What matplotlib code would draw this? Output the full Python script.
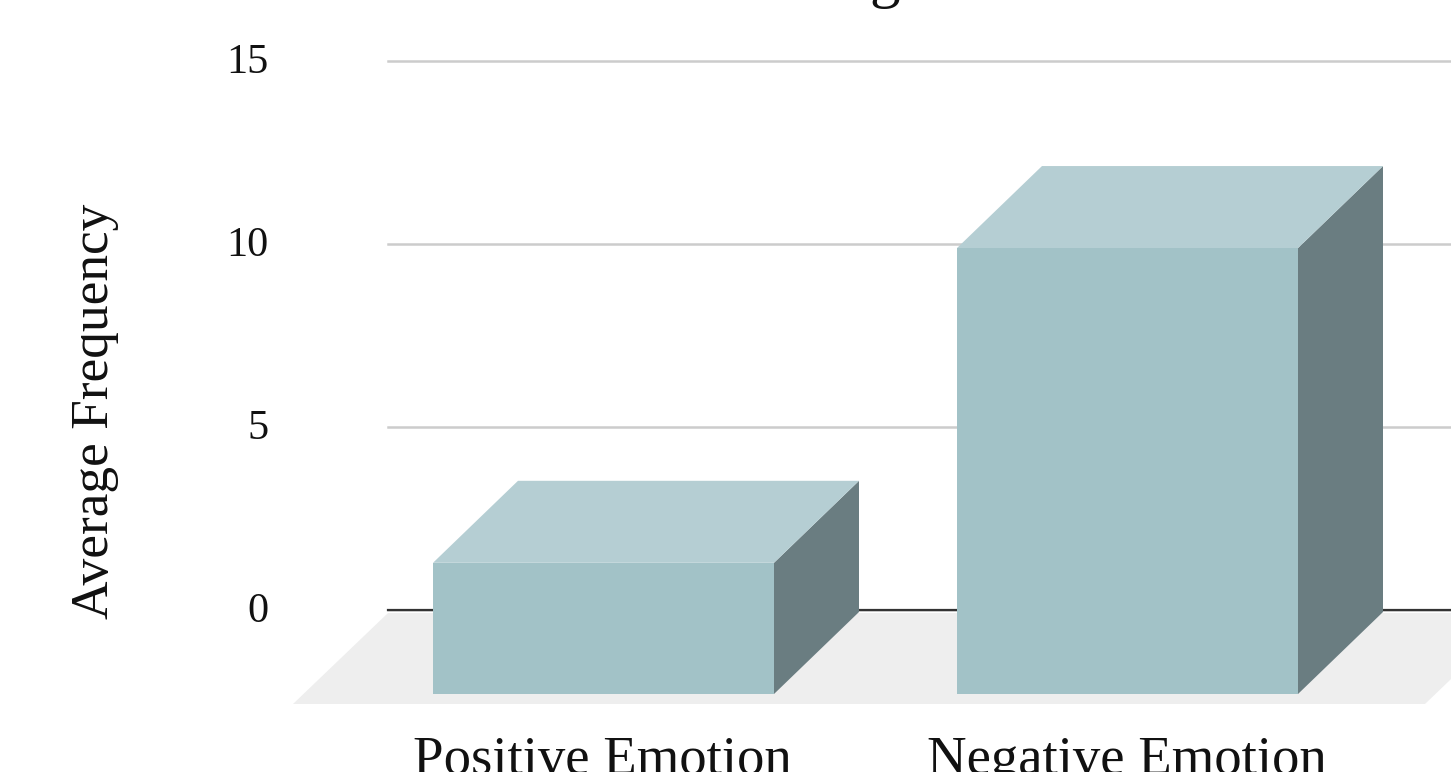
import matplotlib
matplotlib.use('Agg')
import matplotlib.pyplot as plt
from matplotlib.patches import Polygon
from matplotlib.transforms import ScaledTranslation

plt.rcParams['font.family'] = ['Liberation Serif', 'DejaVu Serif']

categories = ['Positive Emotion', 'Negative Emotion']
values = [3.53, 12.13]
yticks = [0, 5, 10, 15]

W, H = 1451, 772
AX_LEFT, AX_RIGHT, AX_TOP, AX_BOTTOM = 388, 1451, 61, 610
STEP = 524.0
PX_PER_UNIT = (AX_BOTTOM - AX_TOP) / 15.0

FRONT = '#a2c2c7'
TOP = '#b5ced3'
SIDE = '#6a7d81'
FLOOR = '#eeeeee'

fig = plt.figure(figsize=(W / 100, H / 100), dpi=100)
ax = fig.add_axes([AX_LEFT / W, 1 - AX_BOTTOM / H,
                   (AX_RIGHT - AX_LEFT) / W, (AX_BOTTOM - AX_TOP) / H])
ax.patch.set_visible(False)
ax.set_xlim((AX_LEFT - 688.5) / STEP, (AX_RIGHT - 688.5) / STEP)
ax.set_ylim(0, 15)

# 3d depth of the bars, in axis units
bar_w = 341 / STEP
dx = 85 / STEP
dy = 82 / PX_PER_UNIT
base = -2 / PX_PER_UNIT

for s in ax.spines.values():
    s.set_visible(False)
ax.set_yticks(yticks)
ax.set_xticks([])
ax.tick_params(axis='y', length=0, labelsize=30.5, pad=86, labelcolor='#111111')
# nudge the tick labels up a little from their gridlines
for lab in ax.get_yticklabels():
    lab.set_transform(lab.get_transform() + ScaledTranslation(0, 2.5 / 100, fig.dpi_scale_trans))
ax.grid(axis='y', color='#cccccc', lw=1.8, clip_on=False)
ax.set_axisbelow(True)
ax.axhline(0, color='#333333', lw=1.6, zorder=1.5, clip_on=False)

# floor plane under the bars
x0 = ax.get_xlim()[0]
floor_dx = 95 / STEP
floor_dy = 94 / PX_PER_UNIT
floor = Polygon([(x0, -3 / PX_PER_UNIT), (x0 + 1132 / STEP, -3 / PX_PER_UNIT),
                 (x0 + (1132 - 95) / STEP, -floor_dy), (x0 - floor_dx, -floor_dy)],
                closed=True, fc=FLOOR, ec='none', clip_on=False, zorder=1.2)
ax.add_patch(floor)

for i, (name, v) in enumerate(zip(categories, values)):
    left = i - bar_w / 2
    right = i + bar_w / 2
    # side, top, then front face
    ax.add_patch(Polygon([(right - dx, base - dy), (right, base), (right, v), (right - dx, v - dy)],
                         fc=SIDE, ec='none', clip_on=False, zorder=3))
    ax.add_patch(Polygon([(left - dx, v - dy), (right - dx, v - dy), (right, v), (left, v)],
                         fc=TOP, ec='none', clip_on=False, zorder=3))
    ax.add_patch(Polygon([(left - dx, base - dy), (right - dx, base - dy), (right - dx, v - dy), (left - dx, v - dy)],
                         fc=FRONT, ec='none', clip_on=False, zorder=4))
    ax.text(i - dx - 0.002, -164 / PX_PER_UNIT, name, ha='center', va='baseline',
            fontsize=39.4, color='#111111', clip_on=False)

ax.set_ylabel('Average Frequency', fontsize=38.4, color='#111111')
ax.yaxis.set_label_coords((118.5 - AX_LEFT) / (AX_RIGHT - AX_LEFT), (610 - 411.5) / (AX_BOTTOM - AX_TOP))

# title runs off the top edge, only the descender stays on the canvas
fig.text(885 / W, 1 + 4 / H, 'g', ha='center', va='baseline', fontsize=44, color='#111111')

fig.savefig('out.png', dpi=100)
